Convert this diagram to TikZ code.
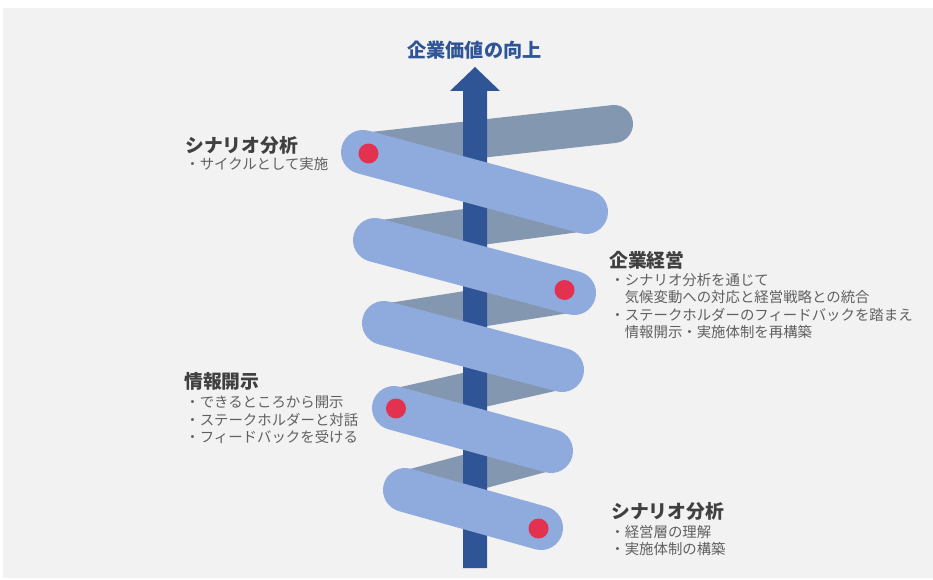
\documentclass[tikz,border=0pt]{standalone}
\usepackage{fontspec}
\setmainfont{Noto Sans CJK JP}
\usepackage{tikz}
\definecolor{paper}{HTML}{F2F2F2}
\definecolor{ribbon}{HTML}{8FAADC}
\definecolor{shade}{HTML}{8497B0}
\definecolor{pole}{HTML}{2F5597}
\definecolor{mark}{HTML}{E2324F}
\definecolor{darktext}{HTML}{404040}
\definecolor{greytext}{HTML}{606060}

\begin{document}
\begin{tikzpicture}[
  front/.style={line width=.88cm,line cap=round,color=ribbon},
  back/.style={line width=.76cm,line cap=round,color=shade},
  head/.style={anchor=west,inner sep=0,font=\fontsize{10.7}{12}\selectfont\bfseries,text=darktext},
  note/.style={anchor=west,inner sep=0,align=left,font=\fontsize{8.2}{9.85}\selectfont,text=greytext},
  dot/.style={circle,fill=mark,inner sep=0,minimum size=.4cm}]
   \useasboundingbox (0,0) rectangle (18.66,-11.58);
   \fill[paper] (.06,-.16) rectangle (18.66,-11.56);

   \draw (12.28,-2.48) coordinate (r0);
   \draw (7.26,-3.04) coordinate (l1);
   \draw (11.72,-4.24) coordinate (r1);
   \draw (7.50,-4.80) coordinate (l2);
   \draw (11.48,-5.86) coordinate (r2);
   \draw (7.68,-6.46) coordinate (l3);
   \draw (11.24,-7.40) coordinate (r3);
   \draw (7.88,-8.16) coordinate (l4);
   \draw (11.02,-9.02) coordinate (r4);
   \draw (8.10,-9.80) coordinate (l5);
   \draw (10.82,-10.56) coordinate (r5);

    \path (r0) edge[back] (l1);
    \path (r1) edge[back] (l2);
    \path (r2) edge[back] (l3);
    \path (r3) edge[back] (l4);
    \path (r4) edge[back] (l5);

   \fill[pole] (9.26,-11.36) -- (9.26,-1.82) -- (9,-1.82) -- (9.5,-1.34) -- (10,-1.82) -- (9.74,-1.82) -- (9.74,-11.36) -- cycle;
   \draw (9.49,-1.00) node[font=\fontsize{10.9}{12}\selectfont\bfseries,text=pole] (goal) {企業価値の向上};

    \path (l1) edge[front] (r1);
    \path (l2) edge[front] (r2);
    \path (l3) edge[front] (r3);
    \path (l4) edge[front] (r4);
    \path (l5) edge[front] (r5);

   \draw (7.37,-3.07) node[dot] (d1) {};
   \draw (11.29,-5.80) node[dot] (d2) {};
   \draw (7.92,-8.17) node[dot] (d3) {};
   \draw (10.77,-10.57) node[dot] (d4) {};

   \draw (3.70,-2.90) node[head] (plan) {シナリオ分析};
   \draw (3.70,-3.28) node[note] (plannote) {・サイクルとして実施};
   \draw (12.18,-5.20) node[head] (manage) {企業経営};
   \draw (12.20,-6.12) node[note] (managenote) {・シナリオ分析を通じて\\　気候変動への対応と経営戦略との統合\\・ステークホルダーのフィードバックを踏まえ\\　情報開示・実施体制を再構築};
   \draw (3.68,-7.63) node[head] (disclose) {情報開示};
   \draw (3.70,-8.40) node[note] (disclosenote) {・できるところから開示\\・ステークホルダーと対話\\・フィードバックを受ける};
   \draw (12.22,-10.23) node[head] (start) {シナリオ分析};
   \draw (12.20,-10.81) node[note] (startnote) {・経営層の理解\\・実施体制の構築};

\end{tikzpicture}
\end{document}
